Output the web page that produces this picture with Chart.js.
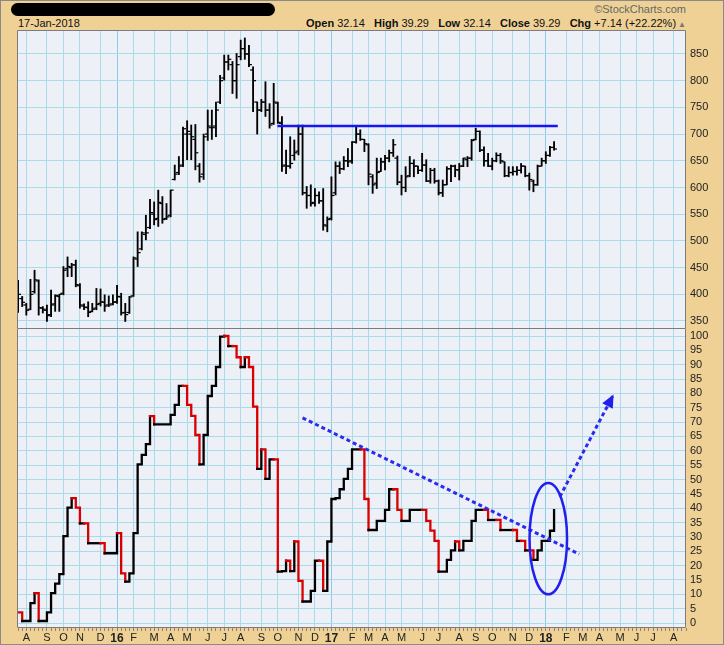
<!DOCTYPE html>
<html>
<head>
<meta charset="utf-8">
<script src="https://cdn.jsdelivr.net/npm/chart.js@4.4.1/dist/chart.umd.min.js"></script>
<style>
  body { margin: 0; background: #fff; }
  #frame {
    position: relative; width: 724px; height: 645px; overflow: hidden;
    background: #efd196; box-shadow: inset 0 0 0 1px #8a8a8a;
    font-family: "Liberation Sans", Arial, sans-serif; color: #111;
  }
  #frame canvas { position: absolute; left: 0; }
  .redact { position: absolute; left: 11px; top: 3px; width: 264px; height: 13px; background: #000; border-radius: 7px; }
  .copy { position: absolute; right: 38px; top: 3px; font-size: 11px; line-height: 13px; color: #666; }
  .date { position: absolute; left: 18px; top: 16px; font-size: 11px; line-height: 14px; }
  .quote { position: absolute; right: 38px; top: 16px; font-size: 11px; line-height: 14px; white-space: nowrap; }
  .quote b { font-weight: bold; }
  .quote .tri { color: #777; font-size: 8px; margin-left: 2px; }
</style>
</head>
<body>
<div id="frame">
  <div class="redact"></div>
  <div class="copy">©StockCharts.com</div>
  <div class="date">17-Jan-2018</div>
  <div class="quote"><b>Open</b> 32.14&nbsp;&nbsp; <b>High</b> 39.29&nbsp;&nbsp; <b>Low</b> 32.14&nbsp;&nbsp; <b>Close</b> 39.29&nbsp;&nbsp; <b>Chg</b> +7.14 (+22.22%)<span class="tri">▲</span></div>
  <canvas id="priceChart" width="724" height="309" style="top:25px"></canvas>
  <canvas id="breadthChart" width="724" height="316" style="top:329px"></canvas>
</div>
<script>
// weekly bars, first bar is the week of Mon 20-Jul-2015, last one the week of 15-Jan-2018
const FIRST_MONDAY = Date.UTC(2015, 6, 20);
const AXIS_ORIGIN = Date.UTC(2015, 7, 3);   // week 0 on the x axis (first Aug-15 gridline)
const WEEK = 7 * 86400000;

const monthLetters = ['J', 'F', 'M', 'A', 'M', 'J', 'J', 'A', 'S', 'O', 'N', 'D'];
const priceTicks = [350, 400, 450, 500, 550, 600, 650, 700, 750, 800, 850];
const breadthTicks = [0, 5, 10, 15, 20, 25, 30, 35, 40, 45, 50, 55, 60, 65, 70, 75, 80, 85, 90, 95, 100];

// upper panel: weekly OHLC
const priceOpen = [
  410, 392, 380, 372, 405, 425, 374, 370, 362, 382,
  396, 402, 448, 450, 455, 416, 378, 375, 368, 374,
  383, 385, 380, 382, 386, 395, 366, 366, 397, 466,
  485, 512, 525, 550, 542, 570, 542, 548, 615, 628,
  642, 700, 700, 690, 640, 625, 700, 712, 715, 760,
  805, 835, 830, 800, 845, 860, 850, 820, 760, 745,
  760, 745, 720, 758, 720, 642, 640, 660, 668, 700,
  590, 585, 572, 585, 575, 528, 542, 590, 640, 635,
  650, 650, 685, 700, 690, 680, 620, 608, 630, 648,
  655, 665, 655, 610, 600, 622, 645, 640, 632, 642,
  612, 632, 612, 590, 605, 635, 640, 633, 640, 652,
  655, 690, 705, 670, 650, 640, 650, 660, 648, 622,
  628, 630, 632, 640, 622, 612, 605, 640, 650, 660, 675
];
const priceHigh = [
  426, 396, 383, 428, 445, 427, 377, 380, 408, 399,
  400, 452, 470, 458, 464, 420, 382, 386, 383, 411,
  410, 399, 397, 399, 417, 402, 383, 396, 470, 517,
  517, 548, 578, 573, 595, 583, 570, 595, 642, 658,
  713, 725, 717, 718, 645, 700, 745, 745, 760, 810,
  848, 848, 836, 851, 876, 880, 866, 826, 760, 765,
  798, 757, 795, 760, 733, 670, 695, 689, 717, 717,
  602, 605, 598, 592, 598, 545, 620, 648, 648, 658,
  673, 686, 714, 708, 690, 682, 624, 655, 655, 660,
  670, 690, 659, 623, 639, 658, 652, 640, 664, 652,
  636, 636, 614, 614, 639, 642, 642, 645, 655, 658,
  690, 711, 706, 676, 664, 655, 665, 664, 648, 639,
  639, 639, 645, 640, 627, 614, 642, 655, 667, 677, 686
];
const priceLow = [
  366, 377, 361, 371, 402, 361, 365, 349, 358, 368,
  368, 399, 433, 433, 414, 374, 371, 358, 367, 371,
  378, 368, 377, 380, 383, 361, 349, 364, 396, 452,
  483, 502, 523, 530, 527, 533, 540, 545, 614, 624,
  639, 652, 652, 633, 610, 615, 688, 690, 695, 757,
  801, 820, 776, 767, 839, 840, 826, 742, 700, 742,
  733, 711, 718, 720, 630, 626, 636, 651, 661, 586,
  561, 565, 565, 570, 520, 517, 539, 586, 626, 633,
  639, 645, 683, 688, 667, 605, 589, 598, 630, 633,
  648, 658, 605, 586, 592, 620, 620, 626, 630, 611,
  608, 608, 586, 583, 605, 611, 620, 614, 639, 639,
  651, 689, 667, 640, 639, 633, 648, 645, 620, 620,
  623, 623, 627, 620, 595, 592, 604, 640, 645, 658, 670
];
const priceClose = [
  400, 385, 370, 400, 427, 375, 372, 360, 380, 398,
  400, 445, 452, 455, 418, 380, 376, 366, 372, 381,
  386, 378, 380, 385, 396, 365, 362, 395, 468, 478,
  515, 515, 553, 540, 572, 540, 545, 595, 625, 640,
  710, 705, 695, 665, 620, 695, 715, 712, 745, 800,
  835, 840, 800, 830, 860, 850, 830, 800, 745, 760,
  745, 717, 760, 722, 640, 640, 645, 665, 700, 590,
  585, 570, 585, 575, 530, 540, 585, 640, 635, 650,
  648, 685, 700, 690, 682, 625, 605, 628, 648, 655,
  665, 680, 610, 600, 620, 645, 640, 632, 642, 612,
  632, 612, 590, 605, 635, 640, 633, 640, 655, 655,
  688, 705, 670, 650, 640, 650, 660, 650, 622, 628,
  630, 632, 640, 622, 615, 605, 640, 650, 660, 675, 672
];

// lower panel: weekly closes of the 0-100 indicator
const breadth = [
  3.7, 0.7, 0.7, 6.9, 10.4, 0.7, 0.7, 3.7, 10.4, 13.7,
  17, 30.3, 40.2, 43.5, 40.2, 34.7, 34.7, 27.8, 27.8, 27.8,
  27.8, 24.3, 24.3, 24.3, 31.3, 17.3, 14.4, 17.3, 31.3, 55.3,
  58.6, 62.3, 72.1, 69.2, 69.2, 69.2, 69.2, 72.5, 76, 82.6,
  82.6, 76, 72.2, 65.5, 55.3, 65.5, 79.1, 82.6, 89.2, 99.8,
  100, 96.5, 96.5, 92.6, 89.2, 92.6, 89.2, 75.4, 53.7, 60.5,
  50.2, 57, 57, 17.9, 18.1, 21.7, 18.1, 28.4, 14.7, 7.5,
  7.5, 11.2, 21.7, 21.7, 11.2, 28.4, 43.2, 43.5, 46.6, 50.2,
  53.7, 60.5, 60.5, 60.5, 43.2, 32.4, 32.4, 35.6, 35.6, 39.4,
  46.6, 46.6, 39.4, 35.6, 35.6, 39.4, 39.4, 39.4, 39.4, 35.6,
  32.2, 28.6, 17.9, 17.9, 22, 25.3, 28.4, 25.3, 28.6, 28.6,
  35.6, 39.4, 39.4, 39.4, 35.9, 35.9, 35.9, 32.4, 32.4, 32.4,
  32.4, 28.6, 28.6, 25.3, 25.3, 22, 25.3, 28.6, 28.6, 32.15, 39.29
];

// hand drawn annotations (week, value)
const resistanceLine = [{ x: 60.9, y: 715 }, { x: 128.9, y: 715 }];
const trendLine = [{ x: 67.0, y: 71.5 }, { x: 134.1, y: 24.0 }];
const arrowLine = [{ x: 129.4, y: 44 }, { x: 142.2, y: 79 }];
const ellipseCenter = [126.6, 29.4];
const ellipseRadius = [4.55, 19.4];

const firstWeek = Math.round((FIRST_MONDAY - AXIS_ORIGIN) / WEEK);
const barWeeks = priceClose.map((_, i) => firstWeek + i);

const axisWeeks = [];
for (let w = -2; w <= 160; w++) axisWeeks.push(w);

function weekDate(w) { return new Date(AXIS_ORIGIN + w * WEEK); }
function isMonthStart(w) { return weekDate(w).getUTCMonth() !== weekDate(w - 1).getUTCMonth(); }
function isYearStart(w) { return isMonthStart(w) && weekDate(w).getUTCMonth() === 0; }
function monthLabel(w) {
  if (!isMonthStart(w)) return '';
  const d = weekDate(w);
  return d.getUTCMonth() === 0 ? String(d.getUTCFullYear()).slice(2) : monthLetters[d.getUTCMonth()];
}

Chart.defaults.font.family = '"Liberation Sans", Arial, sans-serif';
Chart.defaults.font.size = 11;
Chart.defaults.color = '#222';

const GRID = '#a9dbe9';
const YEAR_GRID = '#8ccbe6';

// plot background and box; the lower panel leaves its top edge to the upper one
const plotFrame = {
  id: 'plotFrame',
  beforeDraw(chart) {
    const { ctx, chartArea: a } = chart;
    ctx.save();
    ctx.fillStyle = '#eef0f8';
    ctx.fillRect(a.left, a.top, a.width, a.height);
    ctx.restore();
  },
  afterDraw(chart, args, opts) {
    const { ctx, chartArea: a } = chart;
    const l = Math.round(a.left) + 0.5, r = Math.round(a.right) - 0.5;
    const t = Math.round(a.top) + 0.5, b = Math.round(a.bottom) - 0.5;
    ctx.save();
    ctx.strokeStyle = '#7b7b80';
    ctx.lineWidth = 1;
    ctx.beginPath();
    if (opts.top === false) {
      ctx.moveTo(l, a.top); ctx.lineTo(l, b); ctx.lineTo(r, b); ctx.lineTo(r, a.top);
    } else {
      ctx.rect(l, t, r - l, b - t);
    }
    ctx.stroke();
    ctx.restore();
  }
};

function weekAxis(showLabels) {
  return {
    type: 'linear',
    min: -2.26,
    max: 160,
    offset: false,
    afterBuildTicks: s => { s.ticks = axisWeeks.map(v => ({ value: v })); },
    afterFit: s => {
      s.height = showLabels ? 17 : 0;
      s.paddingLeft = 0;
      s.paddingRight = 0;
    },
    border: { display: false },
    grid: {
      offset: false,
      color: c => {
        const v = c.tick ? c.tick.value : null;
        if (v === null || !isMonthStart(v)) return 'rgba(0,0,0,0)';
        return isYearStart(v) ? YEAR_GRID : GRID;
      },
      drawTicks: showLabels,
      tickLength: 3,
      tickColor: '#8a8478'
    },
    ticks: {
      display: showLabels,
      autoSkip: false,
      maxRotation: 0,
      minRotation: 0,
      padding: 0,
      color: '#222',
      callback: v => monthLabel(v),
      font: c => (c.tick && isYearStart(c.tick.value)) ? { size: 12, weight: 'bold' } : { size: 11 }
    }
  };
}

function valueAxis(min, max, ticks) {
  return {
    position: 'right',
    min: min,
    max: max,
    afterBuildTicks: s => { s.ticks = ticks.map(v => ({ value: v })); },
    afterFit: s => {
      s.width = 38;
      s.paddingTop = 0;
      s.paddingBottom = 0;
    },
    border: { display: false },
    grid: { color: GRID, drawTicks: false },
    ticks: { padding: 4, autoSkip: false, color: '#222' }
  };
}

// upper panel
new Chart(document.getElementById('priceChart'), {
  type: 'scatter',
  data: {
    datasets: [
      {
        type: 'line',
        data: resistanceLine,
        borderColor: '#1616f5',
        borderWidth: 2.5,
        pointRadius: 0
      },
      {
        type: 'bar',
        data: barWeeks.map((w, i) => ({ x: w, y: [priceLow[i], priceHigh[i]] })),
        backgroundColor: '#000',
        barThickness: 1.2,
        grouped: false
      },
      {
        data: barWeeks.map((w, i) => ({ x: w - 0.36, y: priceOpen[i] })),
        pointStyle: 'line',
        pointRadius: 1.5,
        pointHoverRadius: 1.5,
        pointBorderColor: '#000',
        pointBorderWidth: 1.2
      },
      {
        data: barWeeks.map((w, i) => ({ x: w + 0.36, y: priceClose[i] })),
        pointStyle: 'line',
        pointRadius: 1.5,
        pointHoverRadius: 1.5,
        pointBorderColor: '#000',
        pointBorderWidth: 1.2
      }
    ]
  },
  options: {
    responsive: false,
    animation: false,
    devicePixelRatio: 1,
    layout: { padding: { left: 17, right: 0, top: 5, bottom: 5 } },
    plugins: { legend: { display: false }, tooltip: { enabled: false }, plotFrame: { top: true } },
    scales: {
      x: weekAxis(false),
      y: valueAxis(335, 894.9, priceTicks)
    }
  },
  plugins: [plotFrame]
});

// ellipse and arrow head drawn onto the lower panel through its scales
const markup = {
  id: 'markup',
  afterDatasetsDraw(chart) {
    const { ctx, scales: { x, y } } = chart;
    const cx = x.getPixelForValue(ellipseCenter[0]);
    const cy = y.getPixelForValue(ellipseCenter[1]);
    const rx = Math.abs(x.getPixelForValue(ellipseCenter[0] + ellipseRadius[0]) - cx);
    const ry = Math.abs(y.getPixelForValue(ellipseCenter[1] + ellipseRadius[1]) - cy);
    ctx.save();
    ctx.strokeStyle = '#2020ee';
    ctx.lineWidth = 2.5;
    ctx.beginPath();
    ctx.ellipse(cx, cy, rx, ry, 0, 0, Math.PI * 2);
    ctx.stroke();

    const pts = chart.getDatasetMeta(1).data;
    const p0 = pts[0], p1 = pts[pts.length - 1];
    const ang = Math.atan2(p1.y - p0.y, p1.x - p0.x);
    ctx.translate(p1.x, p1.y);
    ctx.rotate(ang);
    ctx.fillStyle = '#2020ee';
    ctx.beginPath();
    ctx.moveTo(2, 0);
    ctx.lineTo(-11, -6);
    ctx.lineTo(-11, 6);
    ctx.closePath();
    ctx.fill();
    ctx.restore();
  }
};

const dotted = {
  type: 'line',
  borderColor: '#2a2af0',
  borderWidth: 3,
  borderDash: [4, 3],
  pointRadius: 0,
  stepped: false
};

// lower panel
new Chart(document.getElementById('breadthChart'), {
  type: 'line',
  data: {
    datasets: [
      Object.assign({ data: trendLine }, dotted),
      Object.assign({ data: arrowLine }, dotted),
      {
        data: barWeeks.map((w, i) => ({ x: w, y: breadth[i] })),
        stepped: true,
        borderWidth: 2.3,
        borderColor: '#000',
        borderCapStyle: 'square',
        borderJoinStyle: 'miter',
        pointRadius: 0,
        segment: {
          borderColor: c => c.p1.parsed.y < c.p0.parsed.y ? '#d80000' : '#000'
        }
      }
    ]
  },
  options: {
    responsive: false,
    animation: false,
    devicePixelRatio: 1,
    layout: { padding: { left: 17, right: 0, top: 0, bottom: 0 } },
    plugins: { legend: { display: false }, tooltip: { enabled: false }, plotFrame: { top: false } },
    scales: {
      x: weekAxis(true),
      y: valueAxis(-1.74, 102.44, breadthTicks)
    }
  },
  plugins: [plotFrame, markup]
});
</script>
</body>
</html>
